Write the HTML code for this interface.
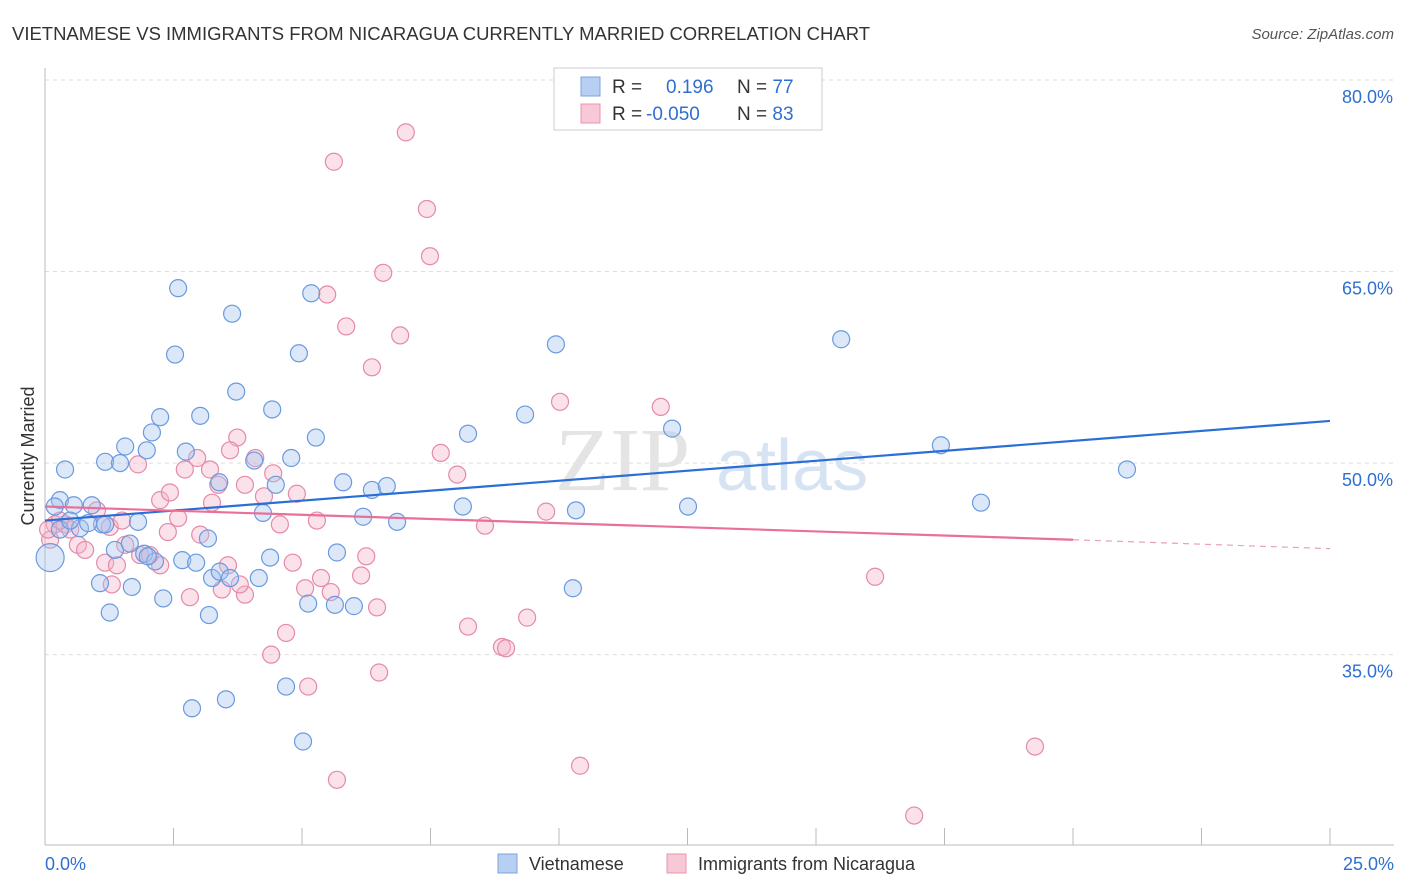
<!DOCTYPE html>
<html><head><meta charset="utf-8"><style>
body{margin:0;background:#fff;font-family:"Liberation Sans",sans-serif;}
svg{display:block}
</style></head><body>
<svg id="chart" width="1406" height="892">
<text x="12" y="40" font-size="18" fill="#333" textLength="858" lengthAdjust="spacingAndGlyphs">VIETNAMESE VS IMMIGRANTS FROM NICARAGUA CURRENTLY MARRIED CORRELATION CHART</text>
<text x="1394" y="39" font-size="15" fill="#555" text-anchor="end" font-style="italic">Source: ZipAtlas.com</text>
<text x="34" y="456" font-size="18" fill="#333" text-anchor="middle" transform="rotate(-90 34 456)">Currently Married</text>
<g id="grid"></g>
<text x="690" y="490" font-size="90" fill="#e4e4e4" text-anchor="end" font-family="Liberation Serif">ZIP</text>
<text x="716" y="490" font-size="72" fill="#d6e3f3">atlas</text>
<g id="pts"></g>
<g id="lines"></g>
<g>
<rect x="554" y="68" width="268" height="62" fill="#fff" stroke="#ccc"/>
<rect x="581" y="77" width="19" height="19" fill="#b7cff2" stroke="#7aa5e0"/>
<rect x="581" y="104" width="19" height="19" fill="#f8c8d6" stroke="#e895b0"/>
<text x="612" y="93" font-size="19" fill="#333">R = <tspan fill="#2f6fd0" x="666">0.196</tspan><tspan x="737" fill="#333">N = </tspan><tspan fill="#2f6fd0">77</tspan></text>
<text x="612" y="120" font-size="19" fill="#333">R = <tspan fill="#2f6fd0" x="646">-0.050</tspan><tspan x="737" fill="#333">N = </tspan><tspan fill="#2f6fd0">83</tspan></text>
</g>
<g>
<rect x="498" y="854" width="19" height="19" fill="#b7cff2" stroke="#7aa5e0"/>
<text x="529" y="870" font-size="18" fill="#333">Vietnamese</text>
<rect x="667" y="854" width="19" height="19" fill="#f8c8d6" stroke="#e895b0"/>
<text x="698" y="870" font-size="18" fill="#333">Immigrants from Nicaragua</text>
</g>
</svg>
<script>
const yTicks=[80,65,50,35];
const yTickLabels=["80.0%","65.0%","50.0%","35.0%"];
const xTickLabels=["0.0%","25.0%"];
const blueX=[0.39,0.29,0.19,0.56,0.91,1.11,0.68,1.81,1.17,1.46,1.56,1.98,2.08,2.24,2.53,2.59,2.74,3.02,3.64,3.72,4.07,4.42,4.79,4.94,5.18,5.27,5.80,6.36,6.65,6.19,6.85,8.23,8.13,9.34,9.94,10.33,10.27,12.20,12.51,15.49,17.43,18.21,21.05,1.36,1.65,1.07,1.26,1.69,1.93,2.14,2.30,2.67,2.94,3.19,3.25,3.40,3.17,3.60,4.16,4.38,3.39,4.49,4.24,5.12,5.68,5.64,6.01,4.69,2.86,3.52,5.02,0.29,0.49,0.84,1.17,2.00];
const blueY=[49.5,47.1,46.6,46.7,46.7,45.2,44.9,45.4,50.1,50.0,51.3,51.0,52.4,53.6,58.5,63.7,50.9,53.7,61.7,55.6,50.2,54.2,50.4,58.6,63.3,52.0,48.5,47.9,48.2,45.8,45.4,52.3,46.6,53.8,59.3,46.3,40.2,52.7,46.6,59.7,51.4,46.9,49.5,43.2,43.7,40.6,38.3,40.3,42.9,42.3,39.4,42.4,42.2,38.1,41.0,41.5,44.1,41.0,41.0,42.6,48.5,48.3,46.1,39.0,43.0,38.9,38.8,32.5,30.8,31.5,28.2,44.8,45.5,45.3,45.2,42.7];
const bigX=[0.10], bigY=[42.6];
const pinkX=[0.10,0.19,0.39,0.49,0.64,0.78,1.01,1.26,1.17,1.40,1.30,1.56,1.81,1.85,2.04,2.24,2.39,2.43,2.59,2.72,2.82,2.96,3.02,3.25,3.37,3.44,3.56,3.74,3.89,4.09,4.26,4.44,4.57,4.69,4.82,4.40,4.90,5.06,5.12,5.29,5.37,5.49,5.56,5.68,5.62,5.86,6.15,6.25,6.36,6.46,6.50,6.58,6.91,7.02,7.43,7.49,7.70,8.02,8.23,8.56,8.89,8.97,9.38,9.75,10.02,10.41,11.98,16.15,16.91,19.26,3.89,3.79,2.24,0.06,0.29,1.50,3.60,3.21];
const pinkY=[44.0,45.2,45.2,44.8,43.6,43.2,46.3,45.0,42.2,42.0,40.5,43.6,49.9,42.8,42.8,47.1,44.6,47.7,45.7,49.5,39.5,50.4,44.4,46.9,48.3,40.1,42.0,52.0,48.3,50.4,47.4,49.2,45.2,36.7,42.2,35.0,47.6,40.2,32.5,45.5,41.0,63.2,39.9,25.2,73.6,60.7,41.2,42.7,57.5,38.7,33.6,64.9,60.0,75.9,69.9,66.2,50.8,49.1,37.2,45.1,35.6,35.5,37.9,46.2,54.8,26.3,54.4,41.1,22.4,27.8,39.7,40.5,42.0,44.8,45.5,45.5,51.0,49.5];
const blueTrend=[45.5,53.3];
const pinkTrend=[46.6,44.0,43.3];
const NS="http://www.w3.org/2000/svg";
const X=v=>45+v/25*1285;
const Y=v=>80+(80-v)*12.77;
function mk(tag,attrs,parent){const e=document.createElementNS(NS,tag);for(const k in attrs)e.setAttribute(k,attrs[k]);parent.appendChild(e);return e;}
const grid=document.getElementById('grid');
yTicks.forEach((t,i)=>{
  const l=mk('line',{x1:45,x2:1394,y1:Y(t),y2:Y(t),stroke:'#ddd','stroke-dasharray':'4,4'},grid);
  
  
  const tx=mk('text',{x:1393,y:Y(t)+23,'font-size':18,fill:'#2f6fd0','text-anchor':'end'},grid);
  tx.textContent=yTickLabels[i];
  
  
});
const ax=mk('line',{x1:45,x2:45,y1:68,y2:845,stroke:'#bbb'},grid);


const bx=mk('line',{x1:45,x2:1394,y1:845,y2:845,stroke:'#bbb'},grid);


for(let i=0;i<=10;i++){
  const t=mk('line',{x1:X(i*2.5),x2:X(i*2.5),y1:828,y2:845,stroke:'#bbb'},grid);
  
  
}
[[0,'start',45],[25,'end',1394]].forEach((d,i)=>{
  const tx=mk('text',{x:d[2],y:870,'font-size':18,fill:'#2f6fd0','text-anchor':d[1]},grid);
  tx.textContent=xTickLabels[i];
  
  
});
const pts=document.getElementById('pts');
function draw(xs,ys,fill,stroke,r,name){
  xs.forEach((x,i)=>{
    const c=mk('circle',{cx:X(x),cy:Y(ys[i]),r:r,fill:fill,'fill-opacity':0.4,stroke:stroke,'stroke-width':1.2},pts);
    
    
  });
}
draw(pinkX,pinkY,'#f5b3c8','#e58aa8',8.5,'nicaragua-point');
draw(blueX,blueY,'#a8c4ee','#6a9ae0',8.5,'vietnamese-point');
draw(bigX,bigY,'#a8c4ee','#6a9ae0',14,'vietnamese-point');
const lines=document.getElementById('lines');
let l1=mk('line',{x1:X(0),y1:Y(blueTrend[0]),x2:X(25),y2:Y(blueTrend[1]),stroke:'#2a6fd6','stroke-width':2.2},lines);


let l2=mk('line',{x1:X(0),y1:Y(pinkTrend[0]),x2:X(20),y2:Y(pinkTrend[1]),stroke:'#e8709a','stroke-width':2.2},lines);


let l3=mk('line',{x1:X(20),y1:Y(pinkTrend[1]),x2:X(25),y2:Y(pinkTrend[2]),stroke:'#e8a0b8','stroke-width':1.2,'stroke-dasharray':'6,5'},lines);


</script>
</body></html>
